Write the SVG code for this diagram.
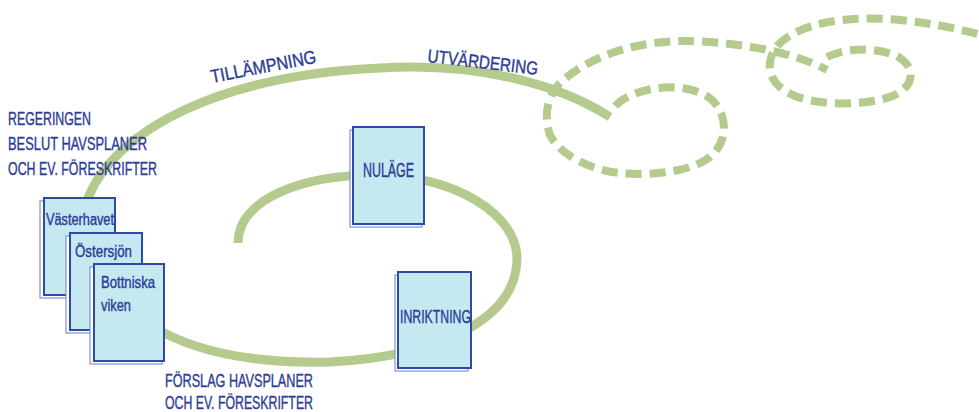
<svg xmlns="http://www.w3.org/2000/svg" width="979" height="412" viewBox="0 0 979 412">
  <style>
    .curve { fill: none; stroke: #b5cb8e; stroke-width: 9; }
    .dash { fill: none; stroke: #b5cb8e; stroke-width: 8; stroke-dasharray: 16 8; }
    .doc { fill: #c6e8f1; stroke: #2e4aa8; stroke-width: 2; }
    .shadow { fill: #ffffff; stroke: #8090d8; stroke-width: 1.2; }
    .lbl { font-family: "Liberation Sans", "DejaVu Sans", sans-serif; fill: #2d3d96; stroke: #2d3d96; stroke-width: 0.4; }
  </style>
  <rect width="979" height="412" fill="#ffffff"/>
  <g id="connectors">
    <path class="curve" d="M238,243 C238,200 300,175 375,175 C455,175 517,215 517,258 C517,318 442,356 330,362 C250,364 190,350 150,325 C100,290 72,239 88,198 C115,130 220,75 380,68 C480,62 560,85 610,117"/>
    <path class="dash" d="M615,106 C635,85 690,80 712,100 C728,115 728,140 712,155 C695,172 650,176 620,173 C590,170 560,155 550,135 C543,115 548,95 560,83 C590,55 640,40 690,41 C730,42 790,50 827,70"/>
    <path class="dash" d="M827,57 C845,48 880,46 900,58 C915,68 915,85 895,95 C870,106 820,106 795,96 C770,86 762,65 778,45 C800,22 850,15 900,20 C930,23 955,28 978,34"/>
  </g>
  <g id="label-tillampning">
    <text class="lbl" font-size="18.5" transform="translate(212,83) rotate(-11)" textLength="107" lengthAdjust="spacingAndGlyphs">TILLÄMPNING</text>
  </g>
  <g id="label-utvardering">
    <text class="lbl" font-size="18.5" transform="translate(427,62) rotate(6.7)" textLength="111" lengthAdjust="spacingAndGlyphs">UTVÄRDERING</text>
  </g>
  <g id="label-regeringen">
    <text class="lbl" font-size="18.5" x="8" y="125" textLength="83" lengthAdjust="spacingAndGlyphs">REGERINGEN</text>
    <text class="lbl" font-size="18.5" x="8" y="150" textLength="139" lengthAdjust="spacingAndGlyphs">BESLUT HAVSPLANER</text>
    <text class="lbl" font-size="18.5" x="8" y="175" textLength="149" lengthAdjust="spacingAndGlyphs">OCH EV. FÖRESKRIFTER</text>
  </g>
  <g id="label-forslag">
    <text class="lbl" font-size="19" x="165" y="387" textLength="148" lengthAdjust="spacingAndGlyphs">FÖRSLAG HAVSPLANER</text>
    <text class="lbl" font-size="19" x="165" y="409" textLength="148" lengthAdjust="spacingAndGlyphs">OCH EV. FÖRESKRIFTER</text>
  </g>
  <g id="node-vasterhavet">
    <rect class="shadow" x="40" y="201" width="72" height="97"/>
    <rect class="doc" x="44" y="198" width="71" height="97"/>
    <text class="lbl" font-size="16" x="46" y="225" textLength="68" lengthAdjust="spacingAndGlyphs">Västerhavet</text>
  </g>
  <g id="node-ostersjon">
    <rect class="shadow" x="66" y="236" width="72" height="97"/>
    <rect class="doc" x="70" y="233" width="72" height="97"/>
    <text class="lbl" font-size="16" x="75" y="257" textLength="57" lengthAdjust="spacingAndGlyphs">Östersjön</text>
  </g>
  <g id="node-bottniska">
    <rect class="shadow" x="90" y="267" width="72" height="97"/>
    <rect class="doc" x="94" y="264" width="70" height="97"/>
    <text class="lbl" font-size="17" x="101" y="288" textLength="54" lengthAdjust="spacingAndGlyphs">Bottniska</text>
    <text class="lbl" font-size="17" x="101" y="311" textLength="30" lengthAdjust="spacingAndGlyphs">viken</text>
  </g>
  <g id="node-nulage">
    <rect class="shadow" x="350" y="130" width="72" height="97"/>
    <rect class="doc" x="353" y="127" width="71" height="97"/>
    <text class="lbl" font-size="19.5" x="363" y="177" textLength="51" lengthAdjust="spacingAndGlyphs">NULÄGE</text>
  </g>
  <g id="node-inriktning">
    <rect class="shadow" x="395" y="275" width="73" height="96"/>
    <rect class="doc" x="398" y="272" width="73" height="96"/>
    <text class="lbl" font-size="18" x="400" y="323" textLength="71" lengthAdjust="spacingAndGlyphs">INRIKTNING</text>
  </g>
</svg>
